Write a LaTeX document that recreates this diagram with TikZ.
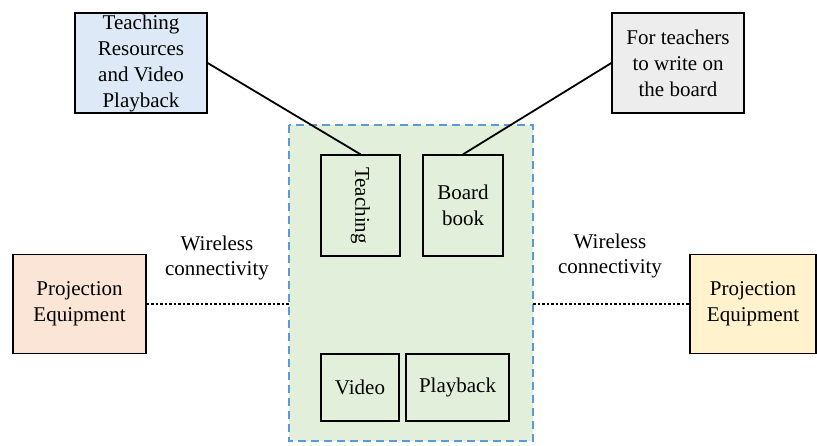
\documentclass[tikz,border=0pt]{standalone}
\usepackage{fontspec}
\setmainfont{Liberation Serif}
\usetikzlibrary{positioning}

\definecolor{resblue}{RGB}{221,233,246}
\definecolor{boardgray}{RGB}{237,237,237}
\definecolor{projorange}{RGB}{251,229,214}
\definecolor{projyellow}{RGB}{255,242,204}
\definecolor{panelgreen}{RGB}{226,239,218}
\definecolor{paneledge}{RGB}{91,155,213}

\tikzset{
  box/.style={draw=black,line width=1.3pt,align=center,inner sep=0pt,font=\fontsize{21}{26}\selectfont},
  label/.style={align=center,inner sep=0pt,font=\fontsize{21}{25}\selectfont},
  link/.style={line width=1.8pt},
  wireless/.style={line width=1.5pt,dash pattern=on 2.5pt off 2pt}
}

\begin{document}
\begin{tikzpicture}[x=1pt,y=-1pt]
\useasboundingbox (0,0) rectangle (817,445);
% the panel
\draw[fill=panelgreen,draw=paneledge,line width=1.3pt,dash pattern=on 8pt off 5pt] (289,125) rectangle (533,441);
\coordinate (panelW) at (289,304);
\coordinate (panelE) at (533,304);
% boxes on the panel
\node[box,minimum width=79pt,minimum height=101pt] (teach) at (360.5,205.5) {\rotatebox{-90}{Teaching}};
\node[box,minimum width=80pt,minimum height=101pt] (board) at (463,205.5) {Board\\book};
\node[box,minimum width=78pt,minimum height=67pt] (video) at (360,387.5) {Video};
\node[box,minimum width=103pt,minimum height=67pt] (play) at (457.5,387.5) {Playback};
% outer boxes
\node[box,fill=resblue,minimum width=132pt,minimum height=100pt] (res) at (141,63) {Teaching\\Resources\\and Video\\Playback};
\node[box,fill=boardgray,minimum width=132pt,minimum height=100pt] (write) at (678,63) {For teachers\\to write on\\the board};
\node[box,fill=projorange,minimum width=133pt,minimum height=99pt] (projL) at (79.5,304) {Projection\\Equipment};
\node[box,fill=projyellow,minimum width=126pt,minimum height=99pt] (projR) at (753,304) {Projection\\Equipment};
% labels
\node[label] (wlL) at (217,258) {Wireless\\connectivity};
\node[label] (wlR) at (610,256) {Wireless\\connectivity};
% connectors
\draw[link] (res.east) -- (teach.north);
\draw[link] (write.west) -- (board.north);
\draw[wireless] (projL.east) -- (panelW);
\draw[wireless] (panelE) -- (projR.west);
\end{tikzpicture}
\end{document}
